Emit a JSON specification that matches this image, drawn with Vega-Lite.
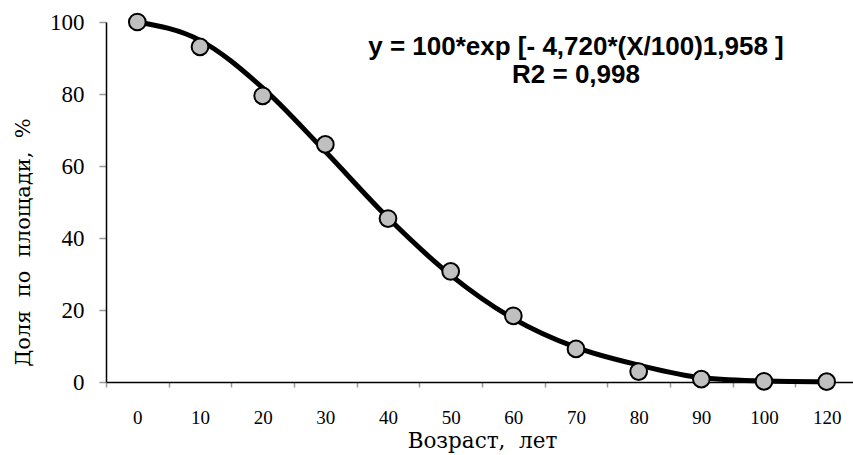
{
  "$schema": "https://vega.github.io/schema/vega-lite/v6.json",
  "width": 752,
  "height": 360,
  "autosize": {"type": "none"},
  "padding": {"left": 106, "top": 22, "right": -5, "bottom": 73},
  "background": "white",
  "config": {
    "view": {"stroke": null},
    "font": "Liberation Serif"
  },
  "datasets": {
    "obs": [
      {"age": "0", "share": 100},
      {"age": "10", "share": 93.1},
      {"age": "20", "share": 79.5},
      {"age": "30", "share": 66.0},
      {"age": "40", "share": 45.4},
      {"age": "50", "share": 30.7},
      {"age": "60", "share": 18.4},
      {"age": "70", "share": 9.2},
      {"age": "80", "share": 2.9},
      {"age": "90", "share": 0.8},
      {"age": "100", "share": 0.2},
      {"age": "120", "share": 0.1}
    ],
    "fit": [
      {"age": "0", "share": 100},
      {"age": "10", "share": 94.9},
      {"age": "20", "share": 81.7},
      {"age": "30", "share": 64.0},
      {"age": "40", "share": 45.6},
      {"age": "50", "share": 29.7},
      {"age": "60", "share": 17.6},
      {"age": "70", "share": 9.6},
      {"age": "80", "share": 4.7},
      {"age": "90", "share": 1.2},
      {"age": "100", "share": 0.3},
      {"age": "120", "share": 0.1}
    ],
    "note": [
      {"age": "70", "share": 93.0, "label": "y = 100*exp [- 4,720*(X/100)1,958 ]"},
      {"age": "70", "share": 85.2, "label": "R2 = 0,998"}
    ]
  },
  "encoding": {
    "x": {
      "field": "age",
      "type": "ordinal",
      "sort": ["0", "10", "20", "30", "40", "50", "60", "70", "80", "90", "100", "120"],
      "scale": {"type": "band", "paddingInner": 0, "paddingOuter": 0},
      "axis": {
        "title": "Возраст,\u00a0\u00a0лет",
        "labelAngle": 0,
        "tickBand": "extent",
        "domainColor": "black",
        "domainWidth": 1.5,
        "tickColor": "#999999",
        "tickSize": 5,
        "tickWidth": 1.5,
        "labelFont": "Liberation Serif",
        "labelFontSize": 19,
        "labelColor": "black",
        "labelPadding": 21,
        "titleFont": "DejaVu Serif",
        "titleFontSize": 21.5,
        "titleFontWeight": "normal",
        "titleColor": "black",
        "titlePadding": 3
      }
    },
    "y": {
      "field": "share",
      "type": "quantitative",
      "scale": {"domain": [0, 100], "nice": false, "zero": true},
      "axis": {
        "title": "Доля\u00a0\u00a0по\u00a0\u00a0площади,\u00a0\u00a0%",
        "values": [0, 20, 40, 60, 80, 100],
        "grid": false,
        "domainColor": "black",
        "domainWidth": 1.5,
        "tickColor": "#999999",
        "tickSize": 7,
        "tickWidth": 1.5,
        "labelFont": "Liberation Serif",
        "labelFontSize": 23,
        "labelColor": "black",
        "labelPadding": 15,
        "titleFont": "DejaVu Serif",
        "titleFontSize": 21,
        "titleFontWeight": "normal",
        "titleColor": "black",
        "titleX": -83,
        "titleY": 220,
        "titleBaseline": "middle",
        "titleAngle": -90
      }
    }
  },
  "layer": [
    {
      "data": {"name": "fit"},
      "mark": {"type": "line", "color": "black", "strokeWidth": 5, "interpolate": "monotone"}
    },
    {
      "data": {"name": "obs"},
      "mark": {"type": "point", "shape": "circle", "filled": true, "fill": "#c0c0c0", "stroke": "black", "strokeWidth": 2, "size": 280, "opacity": 1}
    },
    {
      "data": {"name": "note"},
      "mark": {"type": "text", "font": "Liberation Sans", "fontWeight": "bold", "fontSize": 26, "color": "black", "align": "center", "baseline": "middle"},
      "encoding": {"text": {"field": "label"}}
    }
  ]
}
